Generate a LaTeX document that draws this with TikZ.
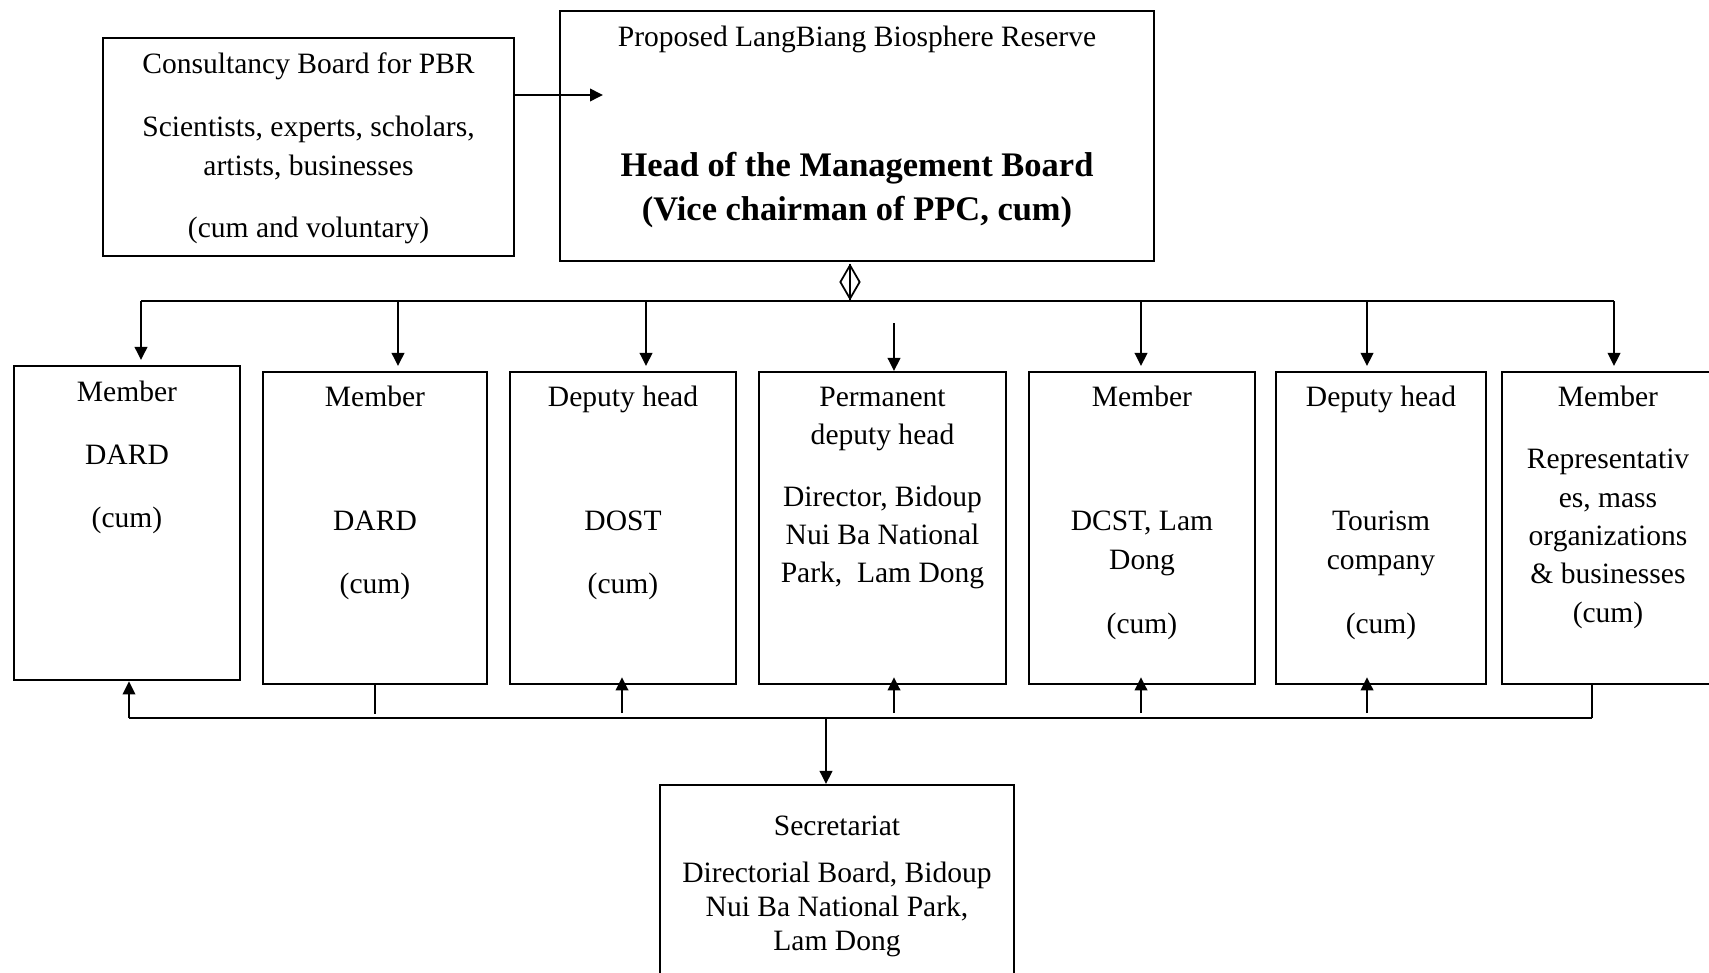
\documentclass[tikz,border=0pt]{standalone}
\usepackage{fontspec}
\setmainfont{Liberation Serif}
\usetikzlibrary{arrows.meta,shapes.geometric}

\tikzset{
  unit/.style={draw, line width=0.6pt, inner sep=0pt, anchor=north,
    font=\fontsize{8.4pt}{10.9pt}\selectfont},
  link/.style={diamond, draw, line width=0.5pt, inner sep=0pt,
    minimum width=0.2cm, minimum height=0.34cm},
  wire/.style={line width=0.55pt},
  upin/.style={shorten >=-0.08cm, shorten <=0.05cm}
}

\begin{document}
\begin{tikzpicture}[x=0.01cm,y=-0.01cm,>={Triangle[length=1.3mm,width=1.25mm]}]
\useasboundingbox (0,0) rectangle (1709,973);

%box text: width, height, lines (top aligned)
\def\cell#1#2#3{\parbox[c][#2][t]{#1}{\centering #3}}
\def\headfont{\bfseries\fontsize{9.8pt}{10.9pt}\selectfont}

% Top boxes
\node[unit] (cons) at (308.5,37) {\cell{4.10cm}{2.18cm}{\rule{0pt}{0.35cm}Consultancy Board for PBR\\[0.255cm]
  Scientists, experts, scholars,\\ artists, businesses\\[0.235cm] (cum and voluntary)}};
\node[unit] (prop) at (857,10) {\cell{5.94cm}{2.50cm}{\rule{0pt}{0.35cm}Proposed LangBiang Biosphere Reserve\\[0.925cm]
  {\headfont Head of the Management Board}\\[0.055cm] {\headfont (Vice chairman of PPC, cum)}}};

% Member row
\node[unit] (b1) at (127,365) {\cell{2.26cm}{3.14cm}{\rule{0pt}{0.35cm}Member\\[0.255cm] DARD\\[0.245cm] (cum)}};
\node[unit] (b2) at (375,371) {\cell{2.24cm}{3.12cm}{\rule{0pt}{0.34cm}Member\\[0.865cm] DARD\\[0.245cm] (cum)}};
\node[unit] (b3) at (623,371) {\cell{2.26cm}{3.12cm}{\rule{0pt}{0.34cm}Deputy head\\[0.865cm] DOST\\[0.245cm] (cum)}};
\node[unit] (b4) at (882.5,371) {\cell{2.47cm}{3.12cm}{\rule{0pt}{0.34cm}Permanent\\ deputy head\\[0.235cm]
  Director, Bidoup\\ Nui Ba National\\ Park,\ \ Lam Dong}};
\node[unit] (b5) at (1142,371) {\cell{2.26cm}{3.12cm}{\rule{0pt}{0.34cm}Member\\[0.865cm] DCST, Lam\\ Dong\\[0.255cm] (cum)}};
\node[unit] (b6) at (1381,371) {\cell{2.10cm}{3.12cm}{\rule{0pt}{0.34cm}Deputy head\\[0.865cm] Tourism\\ company\\[0.255cm] (cum)}};
\node[unit] (b7) at (1608,371) {\cell{2.12cm}{3.12cm}{\rule{0pt}{0.34cm}Member\\[0.245cm] Representativ\\ es, mass\\
  organizations\\ \& businesses\\ (cum)}};

% Secretariat
\node[unit] (secr) at (837,784) {\cell{3.54cm}{2.20cm}{\rule{0pt}{0.50cm}Secretariat\\[0.095cm]
  Directorial Board, Bidoup\\[-0.045cm] Nui Ba National Park,\\[-0.045cm] Lam Dong}};

% Define coordinates
\coordinate (cin) at (603,95);
\coordinate (busL) at (141,301);
\coordinate (busR) at (1614,301);
\coordinate (p4) at (894,323);
\coordinate (lowL) at (129,718);
\coordinate (lowR) at (1592,718);
\coordinate (sdrop) at (826,718);

% Consultancy to head
\draw[wire,->] (cons.east |- cin) -- (cin);

% Head to upper bus
\node[link] (link) at (850,282) {};
\draw[wire] (link.north) -- (link.south);
\draw[wire] (busL) -- (busR);
\foreach \b/\x in {b1/141, b2/398, b3/646, b5/1141, b6/1367, b7/1614}
  \draw[wire,->,shorten >=0.05cm] (\x,301) -- (\b.north -| \x,301);
\draw[wire,->] (p4) -- (b4.north -| p4);

% Lower bus
\draw[wire] (lowL) -- (lowR);
\draw[wire,->] (lowL) -- (b1.south -| lowL);
\draw[wire] (b2.south) -- ([yshift=0.04cm]b2.south |- lowL);
\foreach \b/\x in {b3/622, b4/894, b5/1141, b6/1367}
  \draw[wire,->,upin] (\x,718) -- (\b.south -| \x,718);
\draw[wire] (b7.south -| lowR) -- (lowR);
\draw[wire,->] (sdrop) -- (secr.north -| sdrop);

\end{tikzpicture}
\end{document}
